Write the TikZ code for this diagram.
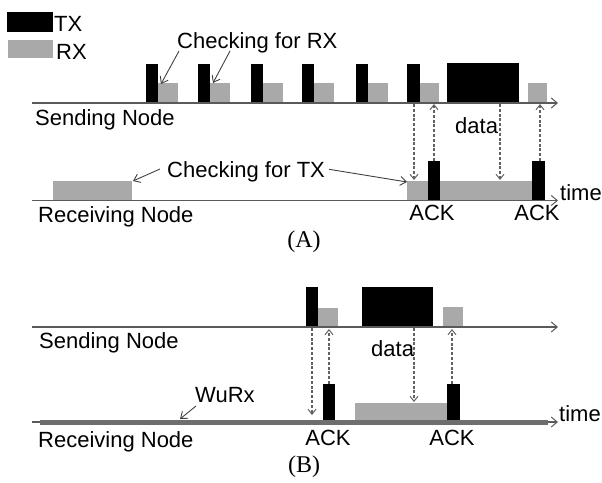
\documentclass[tikz,border=0pt]{standalone}
\usepackage{fontspec}
\setmainfont{Liberation Sans}
\newfontfamily\capfont{Liberation Serif}
\usetikzlibrary{arrows.meta}
\definecolor{rxgray}{HTML}{A9A9A9}
\definecolor{axisgray}{HTML}{5A5A5A}
\definecolor{dashgray}{HTML}{626262}
\definecolor{wugray}{HTML}{6E6E6E}
\tikzset{
  txbox/.style={fill=black},
  rxbox/.style={fill=rxgray},
  axisline/.style={draw=axisgray, line width=1.3pt, -{Straight Barb[length=6pt,width=10pt,line width=1pt]}},
  msgarrow/.style={draw=dashgray, line width=1.1pt, dash pattern=on 3pt off 1.8pt, -{Straight Barb[length=5pt,width=8pt,line width=1pt]}},
  callout/.style={draw=black!75, line width=0.9pt, -{Straight Barb[length=6pt,width=9pt,line width=0.9pt]}},
  lbl/.style={font=\fontsize{22}{25}\selectfont, inner sep=0pt},
  caplbl/.style={font=\capfont\fontsize{24}{27}\selectfont, inner sep=0pt}
}
\begin{document}
\begin{tikzpicture}[x=1pt,y=-1pt]
\useasboundingbox (0,0) rectangle (602,482);
% legend
\fill[txbox] (7,12) rectangle (53,32);
\node[lbl, anchor=base west] (ltx) at (54,31) {TX};
\fill[rxbox] (8,40) rectangle (53,58);
\node[lbl, anchor=base west] (lrx) at (56,59) {RX};

% ===== (A) sending =====
\foreach \x in {146,198,251,302,356} {
  \fill[txbox] (\x,64) rectangle (\x+12,103);
  \fill[rxbox] (\x+12,83) rectangle (\x+32,103);
}
\fill[txbox] (407,64) rectangle (420,103);
\fill[rxbox] (420,83) rectangle (439,103);
\fill[txbox] (447,63) rectangle (519,103);
\fill[rxbox] (528,83) rectangle (547,103);
\coordinate (sAstart) at (32,103);
\coordinate (sAend) at (558,103);
\draw[axisline] (sAstart) -- (sAend);
\node[lbl, anchor=base west] (sendA) at (35,125) {Sending Node};
\node[lbl, anchor=base west] (chkrx) at (177,48) {Checking for RX};
\coordinate (crx1) at (161,84);
\coordinate (crx2) at (213,83);
\draw[callout] (179,51) -- (crx1);
\draw[callout] (230,51) -- (crx2);
\node[lbl, anchor=base west] (dataA) at (455,133) {data};

% ===== (A) receiving =====
\fill[rxbox] (53,181) rectangle (132,200);
\fill[rxbox] (407,181) rectangle (533,200);
\fill[txbox] (428,161) rectangle (440,200);
\fill[txbox] (532,161) rectangle (545,200);
\coordinate (rAstart) at (32,200.5);
\coordinate (rAend) at (558,200.5);
\draw[axisline] (rAstart) -- (rAend);
\node[lbl, anchor=base west] (timeA) at (560,200) {time};
\node[lbl, anchor=base west] (recvA) at (38,222) {Receiving Node};
\node[lbl, anchor=base west] (chktx) at (167,177) {Checking for TX};
\draw[callout] (160,169) -- (133,181);
\draw[callout] (chktx.east) ++(4,-2) -- (407,182);
\node[lbl, anchor=base] (ackA1) at (432,220) {ACK};
\node[lbl, anchor=base] (ackA2) at (537,220) {ACK};

% dashed message arrows (A)
\coordinate (a1s) at (414,104); \coordinate (a1e) at (414,180);
\coordinate (a2s) at (434,161); \coordinate (a2e) at (434,104);
\coordinate (a3s) at (500,104); \coordinate (a3e) at (500,180);
\coordinate (a4s) at (540,161); \coordinate (a4e) at (540,104);
\draw[msgarrow] (a1s) -- (a1e);
\draw[msgarrow] (a2s) -- (a2e);
\draw[msgarrow] (a3s) -- (a3e);
\draw[msgarrow] (a4s) -- (a4e);

\node[caplbl] (capA) at (304,242) {(A)};

% ===== (B) sending =====
\fill[txbox] (306,287) rectangle (318,327);
\fill[rxbox] (318,308) rectangle (338,327);
\fill[txbox] (362,287) rectangle (433,327);
\fill[rxbox] (443,307) rectangle (463,327);
\coordinate (sBstart) at (32,327);
\coordinate (sBend) at (558,327);
\draw[axisline] (sBstart) -- (sBend);
\node[lbl, anchor=base west] (sendB) at (39,348) {Sending Node};
\node[lbl, anchor=base west] (dataB) at (371,356) {data};

% ===== (B) receiving =====
\fill[rxbox] (355,403) rectangle (447,420);
\fill[txbox] (323,384) rectangle (335,420);
\fill[txbox] (447,384) rectangle (460,420);
\coordinate (rBstart) at (32,422);
\coordinate (rBend) at (558,422);
\draw[axisline] (rBstart) -- (rBend);
\fill[wugray] (40,419.5) rectangle (548,424.5);
\node[lbl, anchor=base west] (timeB) at (559,421) {time};
\node[lbl, anchor=base west] (recvB) at (38,447) {Receiving Node};
\node[lbl, anchor=base west] (wurx) at (195,402) {WuRx};
\draw[callout] (196,406) -- (180,419);
\node[lbl, anchor=base] (ackB1) at (328,445) {ACK};
\node[lbl, anchor=base] (ackB2) at (452,445) {ACK};

% dashed message arrows (B)
\coordinate (b1s) at (312,328); \coordinate (b1e) at (312,415);
\coordinate (b2s) at (329,384); \coordinate (b2e) at (329,329);
\coordinate (b3s) at (414,328); \coordinate (b3e) at (414,402);
\coordinate (b4s) at (452,384); \coordinate (b4e) at (452,329);
\draw[msgarrow] (b1s) -- (b1e);
\draw[msgarrow] (b2s) -- (b2e);
\draw[msgarrow] (b3s) -- (b3e);
\draw[msgarrow] (b4s) -- (b4e);

\node[caplbl] (capB) at (304,467) {(B)};
\end{tikzpicture}
\end{document}
